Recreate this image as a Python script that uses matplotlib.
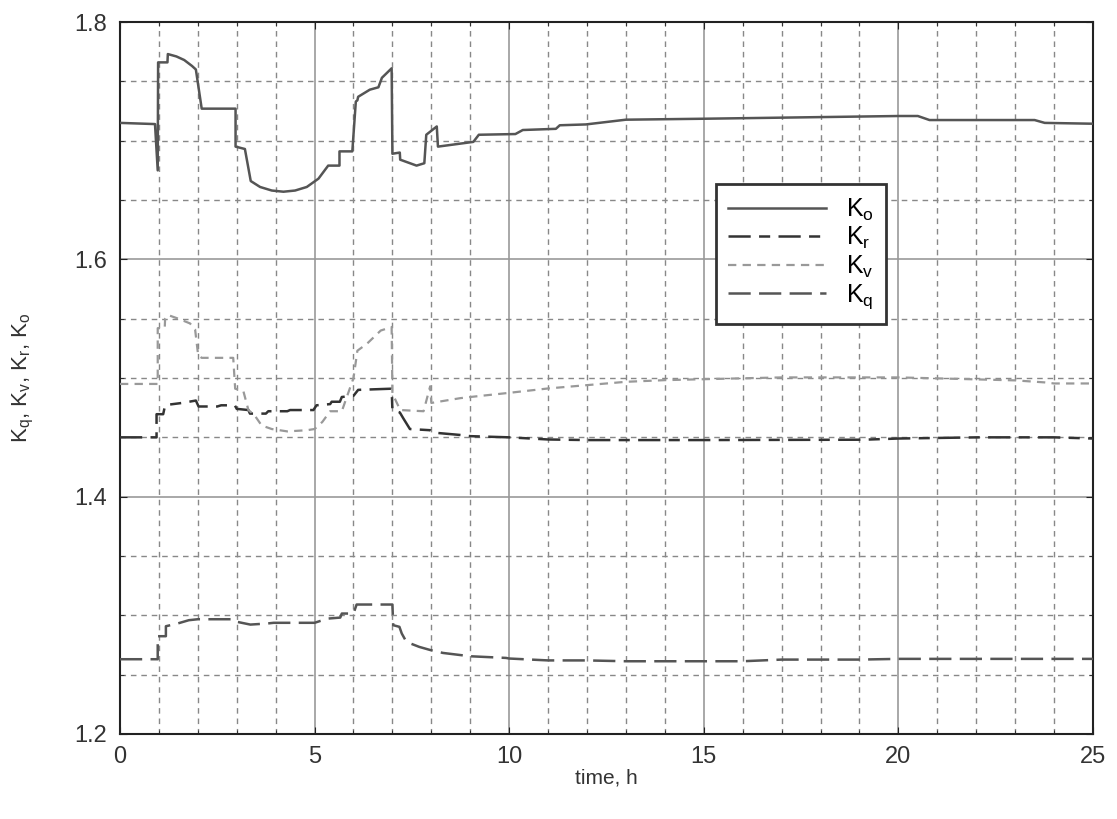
import matplotlib
matplotlib.use('Agg')
import matplotlib.pyplot as plt
from matplotlib.ticker import MultipleLocator, FormatStrFormatter

plt.rcParams['font.family'] = ['Liberation Sans', 'DejaVu Sans']
plt.rcParams['mathtext.fontset'] = 'custom'
plt.rcParams['mathtext.rm'] = 'Liberation Sans'
plt.rcParams['mathtext.it'] = 'Liberation Sans'
plt.rcParams['lines.scale_dashes'] = False

# data
t_o = [0, 0.90, 0.97, 0.98, 1.22, 1.23, 1.45, 1.65, 1.85, 1.95, 2.1, 2.97, 2.97, 3.21, 3.36,
       3.6, 3.9, 4.2, 4.5, 4.8, 5.1, 5.35, 5.64, 5.64, 5.97, 6.06, 6.1, 6.12, 6.42, 6.64, 6.73,
       6.98, 7.0, 7.19, 7.2, 7.62, 7.82, 7.87, 8.14, 8.17, 9.08, 9.22, 10.16, 10.35, 11.2, 11.3,
       11.97, 13.0, 15.0, 20.0, 20.5, 20.8, 23.5, 23.76, 25.0]
k_o = [1.715, 1.714, 1.675, 1.766, 1.766, 1.773, 1.771, 1.768, 1.763, 1.760, 1.727, 1.727, 1.695,
       1.693, 1.666, 1.661, 1.658, 1.657, 1.658, 1.661, 1.668, 1.679, 1.679, 1.691, 1.691, 1.733,
       1.734, 1.737, 1.743, 1.745, 1.753, 1.761, 1.689, 1.690, 1.684, 1.679, 1.681, 1.705, 1.712,
       1.695, 1.699, 1.705, 1.7056, 1.709, 1.710, 1.713, 1.7137, 1.7177, 1.7185, 1.7208, 1.7208,
       1.7174, 1.7174, 1.715, 1.7143]

t_r = [0, 0.94, 0.94, 1.11, 1.16, 1.24, 1.6, 1.95, 2.02, 2.5, 2.6, 2.95, 3.0, 3.3, 3.34, 3.75,
       3.81, 4.3, 4.37, 4.97, 5.05, 5.4, 5.44, 5.65, 5.7, 6.0, 6.12, 6.98, 7.0, 7.19, 7.28, 7.45,
       7.97, 8.05, 8.74, 9, 10, 11, 12, 14.8, 19.1, 20, 22.06, 24, 25]
k_r = [1.450, 1.450, 1.4695, 1.4695, 1.477, 1.4775, 1.479, 1.481, 1.476, 1.476, 1.477, 1.477,
       1.474, 1.473, 1.470, 1.470, 1.472, 1.472, 1.473, 1.473, 1.477, 1.478, 1.480, 1.480, 1.484,
       1.485, 1.490, 1.491, 1.473, 1.471, 1.466, 1.457, 1.456, 1.454, 1.452, 1.451, 1.450, 1.4482,
       1.4477, 1.4477, 1.448, 1.449, 1.450, 1.450, 1.449]

t_v = [0, 0.97, 0.97, 1.15, 1.16, 1.24, 1.5, 1.8, 1.93, 2.01, 2.1, 2.91, 2.96, 3.17, 3.3, 3.45,
       3.64, 3.9, 4.3, 4.8, 5.0, 5.2, 5.4, 5.7, 6.0, 6.1, 6.35, 6.7, 6.98, 7.0, 7.2, 7.8, 7.97,
       8.0, 8.74, 9, 10, 11, 12, 13, 14, 15, 17, 20, 21, 23, 23.76, 24, 25]
k_v = [1.495, 1.495, 1.542, 1.542, 1.550, 1.553, 1.550, 1.546, 1.541, 1.519, 1.517, 1.517,
       1.491, 1.489, 1.473, 1.469, 1.460, 1.457, 1.455, 1.456, 1.457, 1.463, 1.472, 1.472, 1.500,
       1.523, 1.529, 1.540, 1.543, 1.487, 1.473, 1.472, 1.493, 1.479, 1.483, 1.484, 1.4875, 1.4912,
       1.494, 1.4968, 1.4982, 1.499, 1.5005, 1.5005, 1.4997, 1.498, 1.4963, 1.4954, 1.4954]

t_q = [0, 0.97, 0.97, 1.18, 1.18, 1.48, 1.77, 2.0, 2.93, 3.01, 3.35, 3.78, 3.95, 5.0, 5.15,
       5.36, 5.66, 5.7, 6.0, 6.08, 7.0, 7.02, 7.18, 7.24, 7.36, 7.69, 7.99, 8.3, 9.0, 9.92, 10,
       11, 12, 13, 16, 17, 19, 20, 25]
k_q = [1.263, 1.263, 1.2824, 1.2824, 1.2908, 1.2931, 1.2959, 1.2967, 1.2967, 1.2945, 1.2922,
       1.2931, 1.2937, 1.2937, 1.2953, 1.2973, 1.2981, 1.3015, 1.3015, 1.3091, 1.3091, 1.2917,
       1.2903, 1.2847, 1.2776, 1.2734, 1.2706, 1.2683, 1.2655, 1.2641, 1.2636, 1.262, 1.262,
       1.2613, 1.2613, 1.2627, 1.2627, 1.2633, 1.2633]

fig = plt.figure(figsize=(11.17, 8.19), dpi=100)
ax = fig.add_axes([0.1074, 0.1038, 0.8711, 0.8693])

ax.plot(t_o, k_o, color='#555555', lw=1.8, label=r'K$_\mathregular{o}$', zorder=3)
ax.plot(t_r, k_r, color='#333333', lw=1.8, dashes=(16, 6, 8, 6), label=r'K$_\mathregular{r}$', zorder=3)
ax.plot(t_v, k_v, color='#999999', lw=1.6, dashes=(6, 4.5), label=r'K$_\mathregular{v}$', zorder=3)
ax.plot(t_q, k_q, color='#555555', lw=1.8, dashes=(16, 6), label=r'K$_\mathregular{q}$', zorder=3)

ax.set_xlim(0, 25)
ax.set_ylim(1.2, 1.8)
ax.xaxis.set_major_locator(MultipleLocator(5))
ax.xaxis.set_minor_locator(MultipleLocator(1))
ax.yaxis.set_major_locator(MultipleLocator(0.2))
ax.yaxis.set_minor_locator(MultipleLocator(0.05))
ax.yaxis.set_major_formatter(FormatStrFormatter('%.1f'))

ax.grid(which='major', color='#999999', lw=1.2, ls='-')
ax.grid(which='minor', color='#888888', lw=1.0, ls=(0, (4, 3.5)))
ax.set_axisbelow(True)

ax.tick_params(which='both', direction='in', top=True, right=True, colors='#222222',
               labelcolor='#333333', labelsize=17)
ax.tick_params(which='major', length=5, pad=9)
ax.tick_params(which='minor', length=3)
for s in ax.spines.values():
    s.set_color('#222222')
    s.set_linewidth(1.5)

ax.set_xlabel('time, h', fontsize=15, color='#333333', labelpad=0)
ax.set_ylabel(r'K$_\mathregular{q}$, K$_\mathregular{v}$, K$_\mathregular{r}$, K$_\mathregular{o}$',
              fontsize=16, color='#333333', labelpad=28)

leg = ax.legend(loc='upper left', bbox_to_anchor=(0.6125, 0.7725), fontsize=18,
                handlelength=3.9, labelspacing=0.1, fancybox=False, framealpha=1,
                borderpad=0.5, handletextpad=0.8, borderaxespad=0)
leg.get_frame().set_edgecolor('#333333')
leg.get_frame().set_linewidth(2)

fig.savefig('out.png', dpi=100)
